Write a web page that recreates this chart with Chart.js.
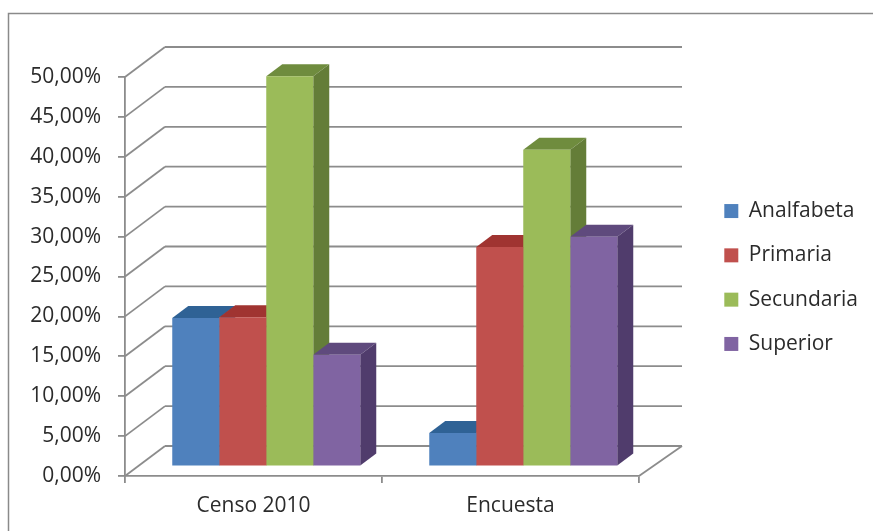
<!DOCTYPE html>
<html>
<head>
<meta charset="utf-8">
<title>Censo 2010 / Encuesta</title>
<script src="https://cdn.jsdelivr.net/npm/chart.js@4/dist/chart.umd.min.js"></script>
<style>
  html, body { margin: 0; padding: 0; background: #fff; }
  #canvas1 { display: block; }
</style>
</head>
<body>
<canvas id="canvas1" width="873" height="531"></canvas>
<script>
const categories = ["Censo 2010", "Encuesta"];
const seriesNames = ["Analfabeta", "Primaria", "Secundaria", "Superior"];
const analfabeta = [18.6, 4.2];
const primaria = [18.7, 27.5];
const secundaria = [48.9, 39.7];
const superior = [14.0, 28.8];
const yTickLabels = ["0,00%", "5,00%", "10,00%", "15,00%", "20,00%", "25,00%", "30,00%", "35,00%", "40,00%", "45,00%", "50,00%"];

const frontColors = ["#4f81bd", "#c0504d", "#9bbb59", "#8064a2"];
const topColors = ["#2f6295", "#a03431", "#6f8c3e", "#5f4a7d"];
const sideColors = ["#2c5a8c", "#8f2e2b", "#647d38", "#503c6c"];

const gridColor = "#8c8c8c";
const gridWidth = 1.8;
const textColor = "#2b2b2b";
const fontFamily = "'Open Sans', sans-serif";
const fontSize = 21;

// depth of the fake 3d box, in pixels
const wall = { dx: 40, dy: -30 };
const barShift = { dx: 12.75, dy: -9.5 };
const barDepth = { dx: 16, dy: -12 };

function line(ctx, x1, y1, x2, y2) {
  ctx.beginPath();
  ctx.moveTo(x1, y1);
  ctx.lineTo(x2, y2);
  ctx.stroke();
}

function poly(ctx, pts, color) {
  ctx.fillStyle = color;
  ctx.beginPath();
  ctx.moveTo(pts[0][0], pts[0][1]);
  pts.slice(1).forEach(function (p) { ctx.lineTo(p[0], p[1]); });
  ctx.closePath();
  ctx.fill();
}

const box3d = {
  id: "box3d",
  beforeDraw: function (chart) {
    // picture frame
    const ctx = chart.ctx;
    ctx.save();
    ctx.strokeStyle = "#8a8a8a";
    ctx.lineWidth = 1.5;
    ctx.strokeRect(8.5, 13.5, 900, 600);
    ctx.restore();
  },
  afterLayout: function (chart) {
    // legend goes further right than the layout would put it, centred on the plot
    const area = chart.chartArea;
    chart.legend.left = 701;
    chart.legend.right = 873;
    chart.legend.top = area.top + 2;
    chart.legend.bottom = area.bottom;
  },
  beforeDatasetsDraw: function (chart) {
    const ctx = chart.ctx;
    const area = chart.chartArea;
    const y = chart.scales.y;

    ctx.save();
    ctx.strokeStyle = gridColor;
    ctx.lineWidth = gridWidth;
    y.ticks.forEach(function (t) {
      const py = y.getPixelForValue(t.value);
      line(ctx, area.left, py, area.left + wall.dx, py + wall.dy);
      line(ctx, area.left + wall.dx, py + wall.dy, area.right + wall.dx + 3, py + wall.dy);
    });
    line(ctx, area.right, area.bottom, area.right + wall.dx + 3, area.bottom + wall.dy);
    ctx.restore();

    // bars sit in the middle of the floor, so everything moves up and right
    ctx.save();
    ctx.translate(barShift.dx, barShift.dy);
    chart.data.datasets.forEach(function (ds, i) {
      chart.getDatasetMeta(i).data.forEach(function (bar) {
        const l = bar.x - bar.width / 2;
        const r = bar.x + bar.width / 2;
        const d = barDepth;
        poly(ctx, [[l, bar.y], [l + d.dx, bar.y + d.dy], [r + d.dx, bar.y + d.dy], [r, bar.y]], topColors[i]);
        poly(ctx, [[r, bar.y], [r + d.dx, bar.y + d.dy], [r + d.dx, bar.base + d.dy], [r, bar.base]], sideColors[i]);
      });
    });
  },
  afterDatasetsDraw: function (chart) {
    chart.ctx.restore();
  }
};

new Chart(document.getElementById("canvas1"), {
  type: "bar",
  plugins: [box3d],
  data: {
    labels: categories,
    datasets: [
      { label: seriesNames[0], data: analfabeta, backgroundColor: frontColors[0] },
      { label: seriesNames[1], data: primaria, backgroundColor: frontColors[1] },
      { label: seriesNames[2], data: secundaria, backgroundColor: frontColors[2] },
      { label: seriesNames[3], data: superior, backgroundColor: frontColors[3] }
    ]
  },
  options: {
    responsive: false,
    animation: false,
    clip: false,
    categoryPercentage: 0.7315,
    barPercentage: 1,
    layout: { padding: { left: 0, right: 67, top: 77, bottom: 0 } },
    plugins: {
      tooltip: { enabled: false },
      legend: {
        position: "right",
        labels: {
          boxWidth: 14,
          boxHeight: 14,
          padding: 23.3,
          color: textColor,
          font: { family: fontFamily, size: fontSize }
        }
      }
    },
    scales: {
      x: {
        afterFit: function (s) { s.height = 55; },
        grid: { drawOnChartArea: false, tickLength: 7, color: gridColor, lineWidth: gridWidth },
        border: { color: gridColor, width: gridWidth },
        ticks: { color: textColor, padding: 10, maxRotation: 0, font: { family: fontFamily, size: fontSize } }
      },
      y: {
        min: 0,
        max: 50,
        afterFit: function (s) { s.width = 125; },
        grid: { drawOnChartArea: false, tickLength: 7, color: gridColor, lineWidth: gridWidth },
        border: { color: gridColor, width: gridWidth },
        ticks: {
          stepSize: 5,
          color: textColor,
          padding: 17,
          font: { family: fontFamily, size: fontSize },
          callback: function (v, i) { return yTickLabels[i]; }
        }
      }
    }
  }
});
</script>
</body>
</html>
